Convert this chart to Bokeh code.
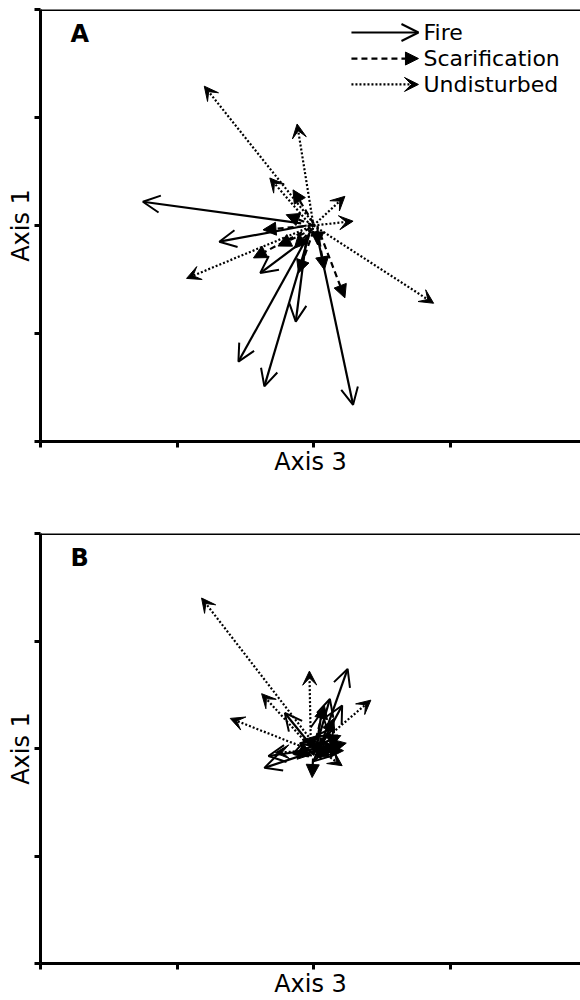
from bokeh.plotting import figure
from bokeh.models import (Arrow, OpenHead, NormalHead, VeeHead, ColumnDataSource,
                          Span, Label, FixedTicker, Range1d)
from bokeh.layouts import column
from bokeh.embed import file_html
from bokeh.resources import INLINE

# ---------------- data (ordination scores: start -> end) ----------------
# Panel A
a_fire_x0 = [-0.09, -0.05, -0.02, -0.03, 0.02, -0.05, -0.05]
a_fire_y0 = [0.02, 0.00, -0.05, -0.08, -0.05, -0.10, -0.12]
a_fire_x1 = [-1.25, -0.69, -0.55, -0.36, 0.29, -0.13, -0.39]
a_fire_y1 = [0.22, -0.15, -1.26, -1.49, -1.66, -0.89, -0.44]

a_scar_x0 = [-0.02, 0.00, 0.00, 0.05, 0.03, 0.00, 0.00, 0.00, 0.03, 0.00]
a_scar_y0 = [-0.02, -0.03, 0.00, -0.08, -0.05, -0.05, 0.02, 0.00, 0.00, -0.02]
a_scar_x1 = [-0.44, -0.26, -0.37, 0.23, 0.08, -0.11, -0.15, -0.20, 0.03, -0.14]
a_scar_y1 = [-0.30, -0.19, -0.04, -0.67, -0.41, -0.44, 0.33, 0.10, -0.18, -0.21]

a_und_x0 = [0.00, 0.00, -0.02, 0.00, 0.00, 0.00, 0.00]
a_und_y0 = [0.02, 0.00, 0.00, 0.00, 0.00, 0.00, 0.00]
a_und_x1 = [-0.80, -0.12, -0.32, 0.23, 0.29, 0.88, -0.93]
a_und_y1 = [1.29, 0.94, 0.44, 0.27, 0.04, -0.72, -0.49]

# Panel B
b_fire_x0 = [0.05, 0.05, 0.02, 0.00, 0.02, 0.05, 0.02, 0.00, 0.10, 0.00, 0.05, 0.00, 0.10, 0.05]
b_fire_y0 = [0.02, 0.02, 0.02, 0.00, -0.02, 0.00, 0.00, -0.05, -0.05, 0.00, 0.00, 0.02, 0.00, 0.05]
b_fire_x1 = [0.25, 0.21, 0.12, -0.21, -0.36, -0.33, 0.06, 0.15, 0.05, 0.18, 0.16, -0.10, 0.00, -0.15]
b_fire_y1 = [0.74, 0.40, 0.46, 0.33, -0.18, -0.07, 0.34, 0.20, 0.10, 0.12, -0.05, 0.05, -0.12, -0.05]

b_scar_x0 = [0.00, 0.05, 0.00, 0.00, 0.05, 0.00, 0.05, 0.05, 0.00, 0.02, 0.02, 0.00]
b_scar_y0 = [0.00, 0.00, 0.00, 0.00, 0.00, -0.02, 0.00, 0.05, 0.00, 0.02, -0.02, 0.05]
b_scar_x1 = [-0.01, 0.24, -0.14, 0.08, 0.15, 0.18, 0.05, -0.08, 0.12, 0.20, 0.22, -0.12]
b_scar_y1 = [-0.27, 0.05, -0.06, 0.40, 0.28, 0.02, -0.10, 0.08, -0.08, 0.12, -0.02, -0.10]

b_und_x0 = [0.00, -0.02, -0.05, -0.05, 0.05, 0.05, -0.05]
b_und_y0 = [0.05, 0.05, 0.05, 0.00, 0.05, -0.02, -0.02]
b_und_x1 = [-0.82, -0.03, -0.38, -0.61, 0.42, 0.21, -0.28]
b_und_y1 = [1.40, 0.72, 0.51, 0.28, 0.45, -0.16, -0.04]

ticks = [-2, -1, 0, 1, 2]
legend_names = ["Fire", "Scarification", "Undisturbed"]

FONT = "DejaVu Sans"


def add_arrows(p, x0, y0, x1, y1, kind):
    src = ColumnDataSource(dict(x0=x0, y0=y0, x1=x1, y1=y1))
    if kind == "fire":
        head = OpenHead(size=17, line_width=2, line_color="black")
        dash = "solid"
    elif kind == "scar":
        head = NormalHead(size=13, line_color="black", fill_color="black", line_width=1)
        dash = "6 4"
    else:
        head = VeeHead(size=14, line_color="black", fill_color="black", line_width=1)
        dash = "2 2"
    p.add_layout(Arrow(end=head, source=src, x_start="x0", y_start="y0",
                       x_end="x1", y_end="y1", line_width=2.2, line_color="black",
                       line_dash=dash))


def make_panel(letter, fire, scar, und, height, border_top, border_bottom, legend=False):
    p = figure(width=580, height=height, output_backend="svg", toolbar_location=None,
               x_range=Range1d(-2, -2 + 540 / 136.5), y_range=Range1d(-2, 2),
               min_border_left=40, min_border_right=0, min_border_top=border_top,
               min_border_bottom=border_bottom)
    p.outline_line_color = None
    p.grid.visible = False
    p.background_fill_color = "white"
    p.border_fill_color = "white"
    for ax, lab in ((p.xaxis[0], "Axis 3"), (p.yaxis[0], "Axis 1")):
        ax.ticker = FixedTicker(ticks=ticks)
        ax.major_label_text_font_size = "1px"
        ax.major_label_text_color = None
        ax.major_label_standoff = 0
        ax.major_tick_in = 0
        ax.major_tick_out = 6
        ax.major_tick_line_width = 3
        ax.minor_tick_line_color = None
        ax.axis_line_width = 3
        ax.axis_line_color = "black"
        ax.major_tick_line_color = "black"
        ax.axis_label = lab
        ax.axis_label_text_font = FONT
        ax.axis_label_text_font_size = "24px"
        ax.axis_label_text_font_style = "normal"
        ax.axis_label_text_color = "black"
        ax.axis_label_standoff = 0
    p.add_layout(Span(location=2, dimension="width", line_width=3, line_color="black"))

    add_arrows(p, *fire, "fire")
    add_arrows(p, *scar, "scar")
    add_arrows(p, *und, "und")

    p.add_layout(Label(x=-1.78, y=1.90, text=letter, text_font=FONT,
                       text_font_size="24px", text_font_style="bold",
                       text_baseline="top", text_align="left", text_color="black"))

    if legend:
        ys = [1.787, 1.546, 1.306]
        for name, yy, kind in zip(legend_names, ys, ["fire", "scar", "und"]):
            add_arrows(p, [0.278], [yy], [0.769], [yy], kind)
            p.add_layout(Label(x=0.806, y=yy, text=name, text_font=FONT,
                               text_font_size="22px", text_baseline="middle",
                               text_align="left", text_color="black"))
    return p


pA = make_panel("A", (a_fire_x0, a_fire_y0, a_fire_x1, a_fire_y1),
                (a_scar_x0, a_scar_y0, a_scar_x1, a_scar_y1),
                (a_und_x0, a_und_y0, a_und_x1, a_und_y1),
                height=532, border_top=9, border_bottom=91, legend=True)
pB = make_panel("B", (b_fire_x0, b_fire_y0, b_fire_x1, b_fire_y1),
                (b_scar_x0, b_scar_y0, b_scar_x1, b_scar_y1),
                (b_und_x0, b_und_y0, b_und_x1, b_und_y1),
                height=468, border_top=1, border_bottom=34)

layout = column(pA, pB, spacing=0)
open("out.html", "w").write(file_html(layout, INLINE))
